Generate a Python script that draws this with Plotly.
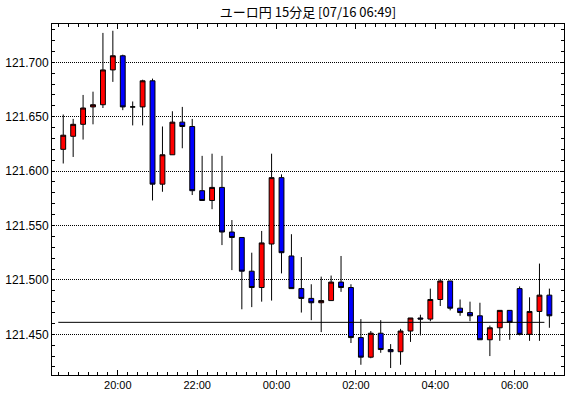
import pandas as pd
import plotly.graph_objects as go

# 15-minute bars, start times
bar_start = "2020-07-15 18:30"
n_bars = 50

open_ = [121.620, 121.632, 121.643, 121.659, 121.661, 121.693, 121.706, 121.659, 121.659, 121.683,
         121.588, 121.615, 121.645, 121.641, 121.582, 121.573, 121.585, 121.544, 121.539, 121.508,
         121.493, 121.533, 121.594, 121.522, 121.492, 121.483, 121.479, 121.481, 121.498, 121.493,
         121.447, 121.429, 121.451, 121.436, 121.434, 121.453, 121.465, 121.464, 121.482, 121.499,
         121.474, 121.470, 121.467, 121.445, 121.456, 121.472, 121.492, 121.450, 121.471, 121.486]
high = [121.652, 121.648, 121.670, 121.673, 121.727, 121.729, 121.707, 121.664, 121.684, 121.685,
        121.641, 121.655, 121.659, 121.648, 121.614, 121.616, 121.614, 121.555, 121.539, 121.525,
        121.545, 121.616, 121.597, 121.542, 121.521, 121.496, 121.503, 121.504, 121.522, 121.496,
        121.464, 121.453, 121.463, 121.441, 121.455, 121.465, 121.468, 121.492, 121.501, 121.499,
        121.482, 121.480, 121.479, 121.458, 121.472, 121.472, 121.494, 121.484, 121.515, 121.492]
low = [121.607, 121.613, 121.629, 121.643, 121.658, 121.682, 121.656, 121.642, 121.642, 121.573,
       121.581, 121.615, 121.621, 121.578, 121.573, 121.565, 121.532, 121.509, 121.473, 121.475,
       121.480, 121.481, 121.506, 121.492, 121.470, 121.463, 121.452, 121.481, 121.489, 121.442,
       121.422, 121.428, 121.433, 121.419, 121.422, 121.443, 121.449, 121.462, 121.476, 121.472,
       121.467, 121.462, 121.445, 121.430, 121.444, 121.445, 121.449, 121.444, 121.444, 121.456]
close = [121.633, 121.643, 121.658, 121.661, 121.693, 121.706, 121.659, 121.659, 121.683, 121.588,
         121.615, 121.645, 121.641, 121.582, 121.573, 121.585, 121.544, 121.539, 121.508, 121.493,
         121.534, 121.594, 121.525, 121.492, 121.483, 121.479, 121.481, 121.498, 121.493, 121.447,
         121.429, 121.451, 121.436, 121.434, 121.453, 121.465, 121.464, 121.482, 121.499, 121.474,
         121.470, 121.467, 121.445, 121.456, 121.472, 121.461, 121.450, 121.471, 121.486, 121.467]

ref_level = 121.461
title_text = "ユーロ円 15分足 [07/16 06:49]"

starts = pd.date_range(bar_start, periods=n_bars, freq="15min")
centers = starts + pd.Timedelta(minutes=7.5)

fig = go.Figure()
fig.add_trace(go.Candlestick(
    x=centers, open=open_, high=high, low=low, close=close,
    increasing=dict(fillcolor="#FF0000", line=dict(color="black", width=1)),
    decreasing=dict(fillcolor="#0000FF", line=dict(color="black", width=1)),
    whiskerwidth=0, showlegend=False, hoverinfo="skip",
))
fig.add_trace(go.Scatter(
    x=[starts[0], starts[-1]], y=[ref_level, ref_level], mode="lines",
    line=dict(color="black", width=1), showlegend=False, hoverinfo="skip",
))

fig.update_layout(
    width=570, height=398,
    margin=dict(l=49, r=5, t=24, b=23),
    paper_bgcolor="white", plot_bgcolor="white",
    title=dict(text=title_text, x=0.5, xref="paper", y=1 - 12 / 398, yref="container",
               xanchor="center", yanchor="middle",
               font=dict(family="Noto Sans CJK JP", size=13, color="black")),
    font=dict(family="Liberation Sans", size=11, color="black"),
    boxgap=0.3,
)
fig.update_xaxes(
    type="date",
    range=["2020-07-15 18:20:30", "2020-07-16 07:14:36"],
    rangeslider=dict(visible=False),
    tick0="2020-07-15 20:00", dtick=2 * 3600 * 1000, tickformat="%H:%M",
    ticks="inside", ticklen=5, tickcolor="black", tickwidth=1,
    minor=dict(dtick=15 * 60 * 1000, ticks="inside", ticklen=3, tickcolor="black", showgrid=False),
    showline=True, linecolor="black", linewidth=1, mirror="allticks",
    showgrid=False, zeroline=False,
    tickfont=dict(family="Liberation Sans", size=11, color="black"),
)
fig.update_yaxes(
    range=[121.4126, 121.7352],
    tick0=121.45, dtick=0.05, tickformat=".3f",
    ticks="inside", ticklen=3, tickcolor="black", tickwidth=1,
    minor=dict(dtick=0.01, ticks="inside", ticklen=3, tickcolor="black", showgrid=False),
    showline=True, linecolor="black", linewidth=1, mirror="allticks",
    showgrid=True, gridcolor="black", griddash="1px,1px", gridwidth=1,
    zeroline=False,
    tickfont=dict(family="Liberation Sans", size=12, color="black"),
)

fig.write_html("out.html")
